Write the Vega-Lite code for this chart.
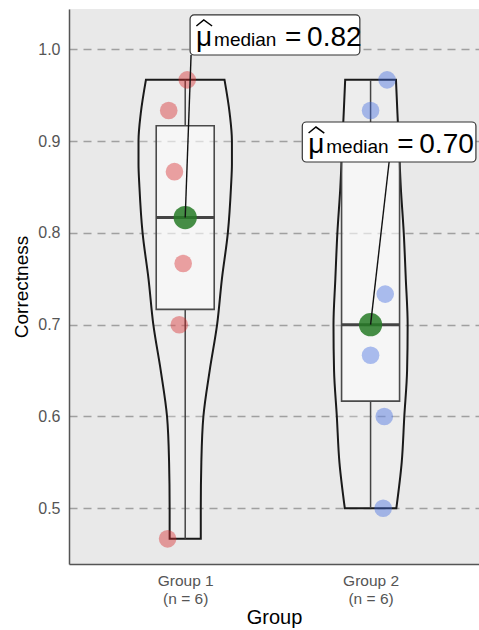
{
  "$schema": "https://vega.github.io/schema/vega-lite/v6.json",
  "width": 410,
  "height": 555,
  "autosize": {"type": "none"},
  "padding": {"left": 69, "top": 9, "right": 0, "bottom": 66},
  "background": "white",
  "config": {"view": {"fill": "#e9e9e9", "stroke": null}, "font": "Liberation Sans"},
  "datasets": {
    "violin": [
      {"g": "Group 1", "y": 0.4667, "lo": 0.916, "hi": 1.084},
      {"g": "Group 1", "y": 0.5, "lo": 0.916, "hi": 1.084},
      {"g": "Group 1", "y": 0.55, "lo": 0.913, "hi": 1.087},
      {"g": "Group 1", "y": 0.6, "lo": 0.902, "hi": 1.098},
      {"g": "Group 1", "y": 0.65, "lo": 0.868, "hi": 1.132},
      {"g": "Group 1", "y": 0.7, "lo": 0.828, "hi": 1.172},
      {"g": "Group 1", "y": 0.75, "lo": 0.802, "hi": 1.198},
      {"g": "Group 1", "y": 0.8, "lo": 0.77, "hi": 1.23},
      {"g": "Group 1", "y": 0.85, "lo": 0.753, "hi": 1.247},
      {"g": "Group 1", "y": 0.875, "lo": 0.748, "hi": 1.252},
      {"g": "Group 1", "y": 0.9, "lo": 0.748, "hi": 1.252},
      {"g": "Group 1", "y": 0.93, "lo": 0.76, "hi": 1.24},
      {"g": "Group 1", "y": 0.9667, "lo": 0.788, "hi": 1.212},
      {"g": "Group 2", "y": 0.5, "lo": 1.861, "hi": 2.139},
      {"g": "Group 2", "y": 0.55, "lo": 1.832, "hi": 2.168},
      {"g": "Group 2", "y": 0.6, "lo": 1.818, "hi": 2.182},
      {"g": "Group 2", "y": 0.65, "lo": 1.803, "hi": 2.197},
      {"g": "Group 2", "y": 0.7, "lo": 1.8, "hi": 2.2},
      {"g": "Group 2", "y": 0.75, "lo": 1.81, "hi": 2.19},
      {"g": "Group 2", "y": 0.8, "lo": 1.821, "hi": 2.179},
      {"g": "Group 2", "y": 0.85, "lo": 1.837, "hi": 2.163},
      {"g": "Group 2", "y": 0.9, "lo": 1.848, "hi": 2.152},
      {"g": "Group 2", "y": 0.93, "lo": 1.855, "hi": 2.145},
      {"g": "Group 2", "y": 0.9667, "lo": 1.863, "hi": 2.137}
    ],
    "boxes": [
      {"g": "Group 1", "x": 1, "min": 0.4667, "q1": 0.7167, "med": 0.8167, "q3": 0.9167, "max": 0.9667},
      {"g": "Group 2", "x": 2, "min": 0.5, "q1": 0.6167, "med": 0.7, "q3": 0.8833, "max": 0.9667}
    ],
    "points": [
      {"g": "Group 1", "xj": 1.011, "value": 0.9667},
      {"g": "Group 1", "xj": 0.911, "value": 0.9333},
      {"g": "Group 1", "xj": 0.942, "value": 0.8667},
      {"g": "Group 1", "xj": 0.989, "value": 0.7667},
      {"g": "Group 1", "xj": 0.968, "value": 0.7},
      {"g": "Group 1", "xj": 0.905, "value": 0.4667},
      {"g": "Group 2", "xj": 2.089, "value": 0.9667},
      {"g": "Group 2", "xj": 2.0, "value": 0.9333},
      {"g": "Group 2", "xj": 2.079, "value": 0.7333},
      {"g": "Group 2", "xj": 2.0, "value": 0.6667},
      {"g": "Group 2", "xj": 2.074, "value": 0.6},
      {"g": "Group 2", "xj": 2.068, "value": 0.5}
    ],
    "labels": [
      {"g": "Group 1", "x": 1, "med": 0.8167, "lx": 1.0316, "ly": 0.9938, "bl": 1.0263, "br": 1.9421, "bb": 0.9938, "bt": 1.0374},
      {"g": "Group 2", "x": 2, "med": 0.7, "lx": 2.1, "ly": 0.8772, "bl": 1.6316, "br": 2.5684, "bb": 0.8772, "bt": 0.9208}
    ]
  },
  "layer": [
    {
      "data": {"name": "violin"},
      "mark": {"type": "area", "orient": "horizontal", "interpolate": "monotone", "fill": "white", "fillOpacity": 0.2, "stroke": "#1a1a1a", "strokeWidth": 2},
      "encoding": {
        "y": {"field": "y", "type": "quantitative", "scale": {"domain": [0.4393, 1.0439], "nice": false, "zero": false},
          "axis": {"title": "Correctness", "values": [0.5, 0.6, 0.7, 0.8, 0.9, 1.0], "format": ".1f", "grid": true, "gridDash": [8, 6], "gridColor": "#a0a0a0", "gridWidth": 1.5, "ticks": false, "labelPadding": 9, "labelFontSize": 16, "labelColor": "#555555", "titleFontSize": 19, "titleFontWeight": "normal", "titleColor": "#000000", "titlePadding": 6, "domainColor": "#555555", "domainWidth": 1.5}},
        "x": {"field": "lo", "type": "quantitative", "scale": {"domain": [0.4, 2.558], "nice": false, "zero": false},
          "axis": {"title": "Group", "values": [1, 2], "labelExpr": "datum.value == 1 ? ['Group 1', '(n = 6)'] : ['Group 2', '(n = 6)']", "grid": false, "ticks": false, "labelPadding": 9, "labelFontSize": 15.5, "labelLineHeight": 18, "labelColor": "#555555", "titleFontSize": 20, "titleFontWeight": "normal", "titleColor": "#000000", "titlePadding": 1, "domainColor": "#555555", "domainWidth": 1.5}},
        "x2": {"field": "hi"},
        "detail": {"field": "g"}
      }
    },
    {
      "data": {"name": "boxes"},
      "mark": {"type": "rule", "color": "#444444", "strokeWidth": 1.5},
      "encoding": {
        "x": {"field": "x", "type": "quantitative", "scale": {"domain": [0.4, 2.558], "nice": false, "zero": false}},
        "y": {"field": "min", "type": "quantitative", "scale": {"domain": [0.4393, 1.0439], "nice": false, "zero": false}},
        "y2": {"field": "q1"}
      }
    },
    {
      "data": {"name": "boxes"},
      "mark": {"type": "rule", "color": "#444444", "strokeWidth": 1.5},
      "encoding": {
        "x": {"field": "x", "type": "quantitative", "scale": {"domain": [0.4, 2.558], "nice": false, "zero": false}},
        "y": {"field": "q3", "type": "quantitative", "scale": {"domain": [0.4393, 1.0439], "nice": false, "zero": false}},
        "y2": {"field": "max"}
      }
    },
    {
      "data": {"name": "boxes"},
      "mark": {"type": "bar", "orient": "vertical", "size": 58, "fill": "#ffffff", "fillOpacity": 0.5, "stroke": "#4a4a4a", "strokeWidth": 1.6},
      "encoding": {
        "x": {"field": "x", "type": "quantitative", "scale": {"domain": [0.4, 2.558], "nice": false, "zero": false}},
        "y": {"field": "q1", "type": "quantitative", "scale": {"domain": [0.4393, 1.0439], "nice": false, "zero": false}},
        "y2": {"field": "q3"}
      }
    },
    {
      "data": {"name": "boxes"},
      "mark": {"type": "tick", "orient": "horizontal", "size": 58, "thickness": 3, "color": "#444444", "opacity": 1},
      "encoding": {
        "x": {"field": "x", "type": "quantitative", "scale": {"domain": [0.4, 2.558], "nice": false, "zero": false}},
        "y": {"field": "med", "type": "quantitative", "scale": {"domain": [0.4393, 1.0439], "nice": false, "zero": false}}
      }
    },
    {
      "data": {"name": "points"},
      "mark": {"type": "circle", "size": 310, "opacity": 0.42},
      "encoding": {
        "x": {"field": "xj", "type": "quantitative", "scale": {"domain": [0.4, 2.558], "nice": false, "zero": false}},
        "y": {"field": "value", "type": "quantitative", "scale": {"domain": [0.4393, 1.0439], "nice": false, "zero": false}},
        "color": {"field": "g", "type": "nominal", "scale": {"domain": ["Group 1", "Group 2"], "range": ["#d62728", "#3f68e0"]}, "legend": null}
      }
    },
    {
      "data": {"name": "boxes"},
      "mark": {"type": "circle", "size": 540, "color": "#267a26", "opacity": 0.85},
      "encoding": {
        "x": {"field": "x", "type": "quantitative", "scale": {"domain": [0.4, 2.558], "nice": false, "zero": false}},
        "y": {"field": "med", "type": "quantitative", "scale": {"domain": [0.4393, 1.0439], "nice": false, "zero": false}}
      }
    },
    {
      "data": {"name": "labels"},
      "mark": {"type": "rule", "color": "#111111", "strokeWidth": 1.4},
      "encoding": {
        "x": {"field": "x", "type": "quantitative", "scale": {"domain": [0.4, 2.558], "nice": false, "zero": false}},
        "y": {"field": "med", "type": "quantitative", "scale": {"domain": [0.4393, 1.0439], "nice": false, "zero": false}},
        "x2": {"field": "lx"},
        "y2": {"field": "ly"}
      }
    },
    {
      "data": {"name": "labels"},
      "mark": {"type": "rect", "fill": "#ffffff", "stroke": "#333333", "strokeWidth": 1.2, "cornerRadius": 4},
      "encoding": {
        "x": {"field": "bl", "type": "quantitative", "scale": {"domain": [0.4, 2.558], "nice": false, "zero": false}},
        "x2": {"field": "br"},
        "y": {"field": "bb", "type": "quantitative", "scale": {"domain": [0.4393, 1.0439], "nice": false, "zero": false}},
        "y2": {"field": "bt"}
      }
    },
    {
      "data": {"name": "labels"},
      "mark": {"type": "text", "text": "μ", "align": "left", "baseline": "alphabetic", "dx": 6, "dy": -9, "fontSize": 28, "color": "#000000"},
      "encoding": {
        "x": {"field": "bl", "type": "quantitative", "scale": {"domain": [0.4, 2.558], "nice": false, "zero": false}},
        "y": {"field": "bb", "type": "quantitative", "scale": {"domain": [0.4393, 1.0439], "nice": false, "zero": false}}
      }
    },
    {
      "data": {"name": "labels"},
      "mark": {"type": "point", "shape": "M 0.063 -0.29 L 0.137 -0.35 L 0.22 -0.29", "size": 40000, "filled": false, "fill": null, "stroke": "#000000", "strokeWidth": 1.5, "opacity": 1, "strokeJoin": "miter"},
      "encoding": {
        "x": {"field": "bl", "type": "quantitative", "scale": {"domain": [0.4, 2.558], "nice": false, "zero": false}},
        "y": {"field": "bb", "type": "quantitative", "scale": {"domain": [0.4393, 1.0439], "nice": false, "zero": false}}
      }
    },
    {
      "data": {"name": "labels"},
      "mark": {"type": "text", "text": "median", "align": "left", "baseline": "alphabetic", "dx": 24, "dy": -9, "fontSize": 19, "color": "#000000"},
      "encoding": {
        "x": {"field": "bl", "type": "quantitative", "scale": {"domain": [0.4, 2.558], "nice": false, "zero": false}},
        "y": {"field": "bb", "type": "quantitative", "scale": {"domain": [0.4393, 1.0439], "nice": false, "zero": false}}
      }
    },
    {
      "data": {"name": "labels"},
      "mark": {"type": "text", "text": "=", "align": "left", "baseline": "alphabetic", "dx": 95, "dy": -9, "fontSize": 28, "color": "#000000"},
      "encoding": {
        "x": {"field": "bl", "type": "quantitative", "scale": {"domain": [0.4, 2.558], "nice": false, "zero": false}},
        "y": {"field": "bb", "type": "quantitative", "scale": {"domain": [0.4393, 1.0439], "nice": false, "zero": false}}
      }
    },
    {
      "data": {"name": "labels"},
      "mark": {"type": "text", "align": "left", "baseline": "alphabetic", "dx": 117, "dy": -9, "fontSize": 28, "color": "#000000"},
      "encoding": {
        "x": {"field": "bl", "type": "quantitative", "scale": {"domain": [0.4, 2.558], "nice": false, "zero": false}},
        "y": {"field": "bb", "type": "quantitative", "scale": {"domain": [0.4393, 1.0439], "nice": false, "zero": false}},
        "text": {"field": "med", "type": "quantitative", "format": ".2f"}
      }
    }
  ]
}
